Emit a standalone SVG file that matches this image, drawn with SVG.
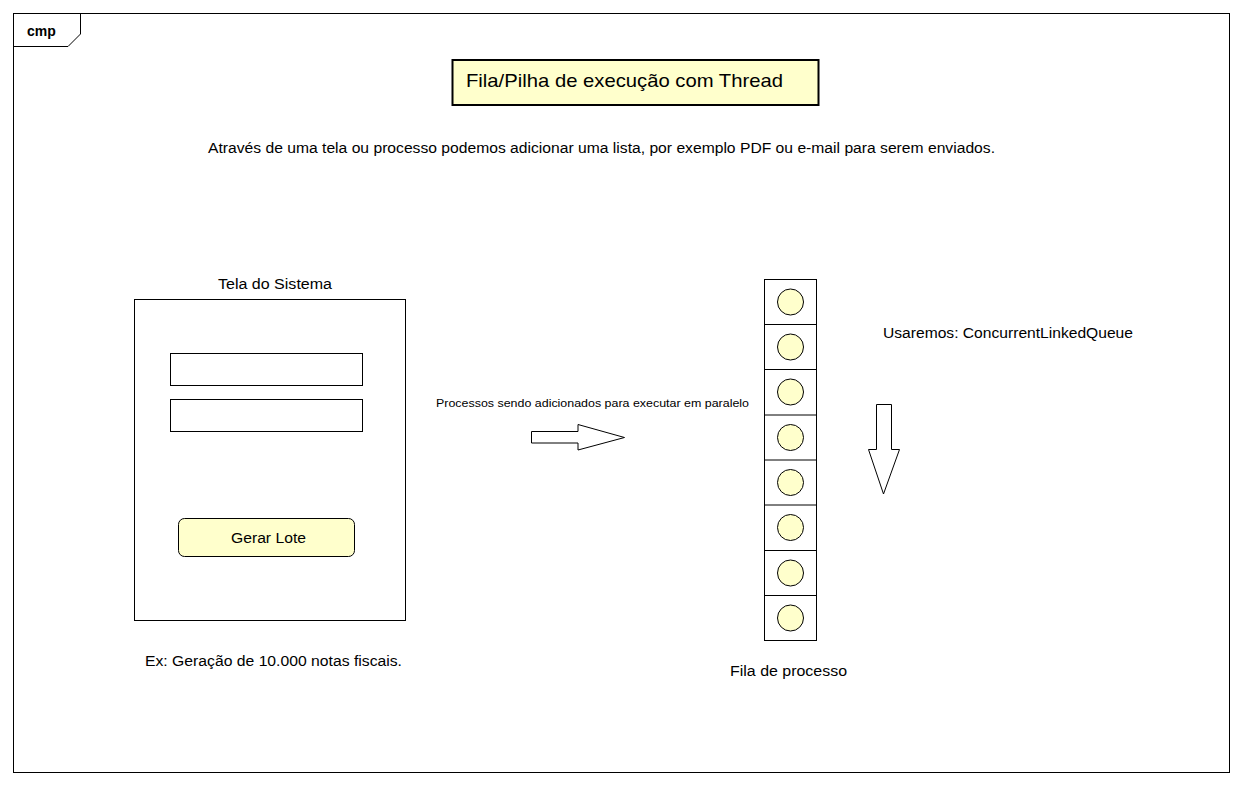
<svg xmlns="http://www.w3.org/2000/svg" width="1242" height="785" viewBox="0 0 1242 785">
<style>
text{font-family:"Liberation Sans",Arial,sans-serif;fill:#000;}
.t14{font-size:14px;}
.ln{fill:none;stroke:#000;stroke-width:1;}
.box{fill:#fff;stroke:#000;stroke-width:1;}
.yel{fill:#FFFFCC;stroke:#000;stroke-width:1;}
</style>
<rect width="1242" height="785" fill="#fff"/>
<g id="frame">
<rect x="13.5" y="13.5" width="1216" height="759" class="ln"/>
<path d="M13.5,46.5 L68,46.5 L80.5,34 L80.5,13.5" class="ln"/>
<text x="27" y="36" style="font-size:14px;font-weight:bold">cmp</text>
</g>
<g id="title">
<rect x="452.5" y="60" width="366" height="45" fill="#FFFFCC" stroke="#000" stroke-width="2"/>
<text x="466" y="87" style="font-size:19px" textLength="317" lengthAdjust="spacingAndGlyphs">Fila/Pilha de execução com Thread</text>
</g>
<g id="description">
<text x="208" y="153" class="t14" textLength="787" lengthAdjust="spacingAndGlyphs">Através de uma tela ou processo podemos adicionar uma lista, por exemplo PDF ou e-mail para serem enviados.</text>
</g>
<g id="tela">
<text x="218" y="289" class="t14" textLength="114" lengthAdjust="spacingAndGlyphs">Tela do Sistema</text>
<rect x="134.5" y="299.5" width="271" height="321" class="box"/>
<rect x="170.5" y="353.5" width="192" height="32" class="box"/>
<rect x="170.5" y="399.5" width="192" height="32" class="box"/>
<g id="gerar-lote">
<rect x="178.5" y="518.5" width="176" height="38" rx="6" class="yel"/>
<text x="231" y="543" class="t14" textLength="75" lengthAdjust="spacingAndGlyphs">Gerar Lote</text>
</g>
</g>
<g id="exemplo">
<text x="145" y="666" class="t14" textLength="257" lengthAdjust="spacingAndGlyphs">Ex: Geração de 10.000 notas fiscais.</text>
</g>
<g id="connectors">
<text x="436" y="407" style="font-size:11px" textLength="313" lengthAdjust="spacingAndGlyphs">Processos sendo adicionados para executar em paralelo</text>
<polygon points="531.5,431.5 578,431.5 578,424.5 624.5,437.5 578,450 578,443 531.5,443" class="box"/>
<polygon points="876.5,404.5 891.5,404.5 891.5,449.5 899.5,449.5 883.5,494 868.5,449.5 876.5,449.5" class="box"/>
</g>
<g id="fila">
<rect x="764.5" y="279.5" width="52" height="361" class="box"/>
<path d="M764.5,324.5H816.5M764.5,369.5H816.5M764.5,415H816.5M764.5,460H816.5M764.5,505H816.5M764.5,550.5H816.5M764.5,595.5H816.5" class="ln"/>
<circle cx="790.5" cy="302" r="13" class="yel"/>
<circle cx="790.5" cy="347" r="13" class="yel"/>
<circle cx="790.5" cy="392" r="13" class="yel"/>
<circle cx="790.5" cy="437.5" r="13" class="yel"/>
<circle cx="790.5" cy="482.5" r="13" class="yel"/>
<circle cx="790.5" cy="527.5" r="13" class="yel"/>
<circle cx="790.5" cy="573" r="13" class="yel"/>
<circle cx="790.5" cy="618" r="13" class="yel"/>
<text x="730" y="676" class="t14" textLength="117" lengthAdjust="spacingAndGlyphs">Fila de processo</text>
</g>
<g id="usaremos">
<text x="883" y="338" class="t14" textLength="250" lengthAdjust="spacingAndGlyphs">Usaremos: ConcurrentLinkedQueue</text>
</g>
</svg>
